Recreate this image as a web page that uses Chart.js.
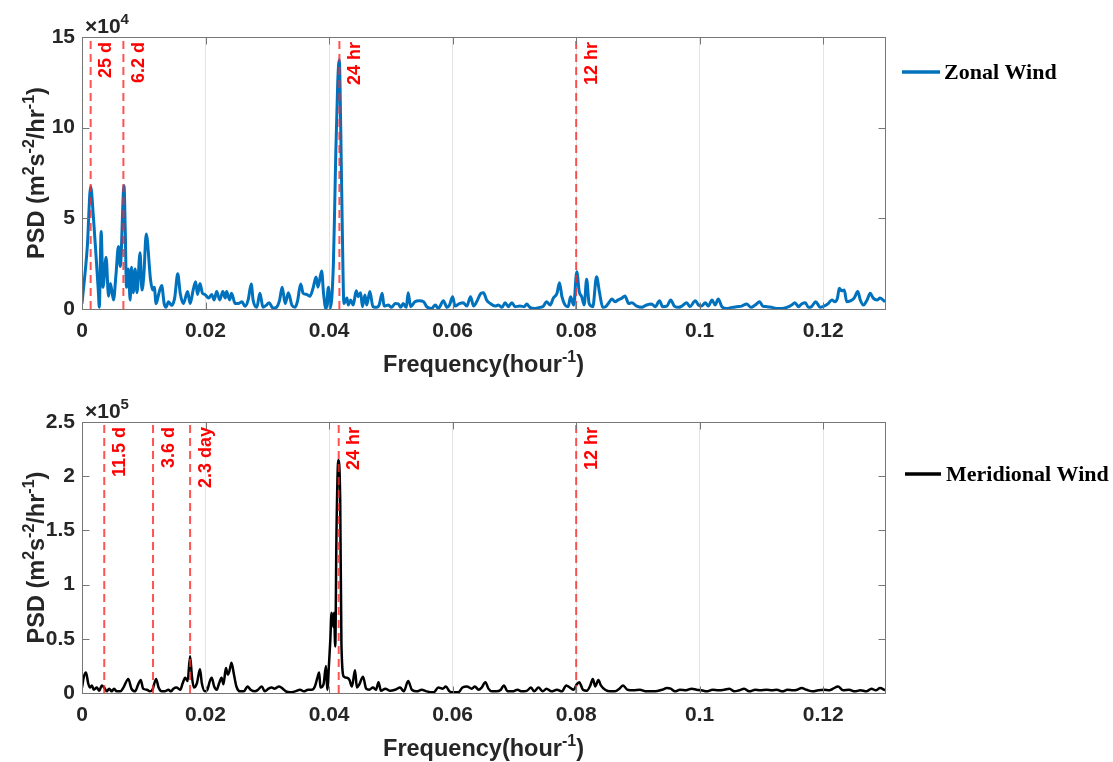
<!DOCTYPE html>
<html>
<head>
<meta charset="utf-8">
<script src="https://cdn.jsdelivr.net/npm/chart.js@4.4.0/dist/chart.umd.min.js"></script>
<style>
  html, body { margin: 0; padding: 0; background: #fff; }
  #wrap { position: relative; width: 1113px; height: 762px; }
  .panel { position: absolute; left: 0; width: 1113px; height: 381px; }
</style>
</head>
<body>
<div id="wrap">
  <div class="panel" style="top:0"><canvas id="zonal"></canvas></div>
  <div class="panel" style="top:381px"><canvas id="merid"></canvas></div>
</div>
<script>
// frequency axis (hour^-1), shared by both panels
const freqTicks = [0, 0.02, 0.04, 0.06, 0.08, 0.1, 0.12];

// zonal wind PSD, in units of 1e4
const zonalFreq = [
  0, 0.00086, 0.0014, 0.00184, 0.00226, 0.00264, 0.0028, 0.0031, 0.0034, 0.0039,
  0.0043, 0.0046, 0.0051, 0.0055, 0.0059, 0.0062, 0.0068, 0.0070, 0.0072, 0.0075,
  0.0078, 0.0080, 0.0083, 0.0086, 0.0089, 0.0094, 0.0097, 0.0100, 0.0104, 0.0111,
  0.01145, 0.0117, 0.0120, 0.0124, 0.0129, 0.0133, 0.0136, 0.0140, 0.0145, 0.0150,
  0.0155, 0.0159, 0.0164, 0.0171, 0.0175, 0.0180, 0.0184, 0.0187, 0.0191, 0.0195,
  0.0199, 0.0205, 0.0210, 0.0214, 0.0218, 0.0223, 0.0228, 0.0232, 0.0234, 0.0239,
  0.0242, 0.0248, 0.0253, 0.0259, 0.0264, 0.0269, 0.0274, 0.0277, 0.0283, 0.0288,
  0.0293, 0.0298, 0.0303, 0.0309, 0.0315, 0.0320, 0.0324, 0.0329, 0.0334, 0.0340,
  0.0345, 0.0349, 0.0354, 0.0358, 0.0364, 0.0369, 0.0374, 0.0379, 0.0382, 0.0388,
  0.0391, 0.0395, 0.0399, 0.0402, 0.0407, 0.0409, 0.0411, 0.0414, 0.04165, 0.0419,
  0.04215, 0.0424, 0.0429, 0.0431, 0.0435, 0.0439, 0.0444, 0.0447, 0.0451, 0.0454,
  0.0458, 0.0461, 0.0466, 0.0471, 0.0477, 0.0481, 0.0486, 0.0489, 0.0496, 0.0501,
  0.0507, 0.0512, 0.0516, 0.0520, 0.0525, 0.0528, 0.0532, 0.0539, 0.0546, 0.0553,
  0.0558, 0.0566, 0.0572, 0.0577, 0.0585, 0.0591, 0.0595, 0.0600, 0.0604, 0.0611,
  0.0617, 0.0623, 0.0629, 0.0634, 0.0639, 0.0646, 0.0650, 0.0655, 0.0661, 0.0669,
  0.0674, 0.0680, 0.0685, 0.0690, 0.0696, 0.0701, 0.0709, 0.0716, 0.0720, 0.0725,
  0.0733, 0.0741, 0.0747, 0.0752, 0.0758, 0.0763, 0.0769, 0.0773, 0.0777, 0.0782,
  0.0787, 0.0791, 0.0796, 0.0801, 0.0805, 0.0809, 0.0813, 0.0817, 0.0821, 0.0827,
  0.0833, 0.0838, 0.0843, 0.0848, 0.0852, 0.0858, 0.0863, 0.0868, 0.0874, 0.0879,
  0.0885, 0.0890, 0.0898, 0.0906, 0.0914, 0.0922, 0.0928, 0.0935, 0.0940, 0.0947,
  0.0953, 0.0959, 0.0966, 0.0971, 0.0979, 0.0984, 0.0993, 0.0998, 0.1003, 0.1009,
  0.1014, 0.1020, 0.1025, 0.1030, 0.1036, 0.1044, 0.1052, 0.1060, 0.1068, 0.1076,
  0.1083, 0.1090, 0.1097, 0.1102, 0.1109, 0.1117, 0.1125, 0.1133, 0.1141, 0.1149,
  0.1154, 0.1160, 0.1165, 0.1171, 0.1176, 0.1181, 0.1188, 0.1195, 0.1201, 0.1208,
  0.1214, 0.1219, 0.1223, 0.1226, 0.1230, 0.1234, 0.1238, 0.1244, 0.1250, 0.1256,
  0.1260, 0.1265, 0.1271, 0.1276, 0.1281, 0.1287, 0.1292, 0.1300
];
const zonalPsd = [
  0.3, 3.44, 6.76, 5.1, 3.0, 1.0, 0.1, 4.27, 1.2, 2.85,
  0.7, 1.4, 0.5, 1.9, 3.44, 2.35, 6.8, 4.4, 1.2, 2.2,
  0.5, 2.3, 0.9, 2.2, 0.9, 3.1, 1.05, 1.8, 4.14, 1.6,
  1.05, 1.2, 0.3, 0.8, 1.3, 0.3, 0.1, 0.4, 0.2, 0.6,
  1.94, 0.87, 0.3, 0.96, 0.3, 1.05, 1.5, 0.8, 1.4, 0.87,
  0.8, 0.6, 0.8, 0.5, 0.96, 0.5, 0.96, 0.6, 0.96, 0.5,
  0.87, 0.3, 0.3, 0.4, 0.15, 0.5, 1.38, 0.5, 0.1, 0.87,
  0.1, 0.2, 0.35, 0.05, 0.1, 0.5, 1.2, 0.3, 0.9, 0.2,
  0.1, 0.45, 1.38, 0.87, 0.8, 0.7, 1.14, 1.76, 1.2, 2.1,
  0.87, 0.0, 1.2, 0.05, 2.5, 5.5, 8.8, 12.5, 13.75, 9.7,
  4.2, 0.3, 0.6, 0.22, 0.5, 0.22, 1.0, 0.68, 0.9, 0.13,
  0.77, 0.22, 0.96, 0.13, 0.09, 0.22, 0.87, 0.16, 0.22, 0.09,
  0.3, 0.28, 0.09, 0.3, 0.09, 0.9, 0.13, 0.4, 0.45, 0.4,
  0.13, 0.03, 0.22, 0.03, 0.45, 0.09, 0.22, 0.68, 0.16, 0.3,
  0.35, 0.16, 0.68, 0.16, 0.4, 0.87, 0.9, 0.5, 0.3, 0.16,
  0.22, 0.09, 0.35, 0.13, 0.35, 0.13, 0.16, 0.13, 0.28, 0.09,
  0.03, 0.09, 0.16, 0.4, 0.22, 0.6, 0.87, 1.45, 0.68, 0.22,
  0.13, 0.68, 0.22, 2.06, 0.96, 0.68, 0.22, 1.64, 0.3, 0.13,
  1.78, 0.87, 0.09, 0.13, 0.3, 0.55, 0.4, 0.5, 0.6, 0.72,
  0.3, 0.35, 0.16, 0.09, 0.22, 0.28, 0.13, 0.45, 0.13, 0.16,
  0.5, 0.16, 0.09, 0.16, 0.35, 0.13, 0.45, 0.22, 0.16, 0.35,
  0.16, 0.5, 0.22, 0.55, 0.13, 0.03, 0.09, 0.13, 0.16, 0.28,
  0.09, 0.22, 0.4, 0.16, 0.13, 0.09, 0.03, 0.03, 0.09, 0.22,
  0.35, 0.13, 0.28, 0.35, 0.09, 0.13, 0.4, 0.09, 0.16, 0.3,
  0.5, 0.4, 0.6, 1.14, 1.0, 1.05, 0.4, 0.45, 0.6, 0.96,
  0.5, 0.22, 0.5, 0.87, 0.6, 0.5, 0.6, 0.4
];
const zonalTicks = [0, 5, 10, 15];
const zonalMarkFreq = [0.0014, 0.0067, 0.04167, 0.08];
const zonalMarkText = ['25 d', '6.2 d', '24 hr', '12 hr'];

// meridional wind PSD, in units of 1e5
const meridFreq = [
  0, 0.0003, 0.00065, 0.0010, 0.0013, 0.0016, 0.0019, 0.0024, 0.0028, 0.0032,
  0.0036, 0.0040, 0.0044, 0.0048, 0.0052, 0.0056, 0.0062, 0.0067, 0.0075, 0.0080,
  0.0086, 0.0091, 0.0095, 0.0099, 0.0105, 0.0110, 0.0114, 0.0120, 0.0124, 0.0129,
  0.0134, 0.0140, 0.0144, 0.0148, 0.0153, 0.0159, 0.0163, 0.0167, 0.0171, 0.0175,
  0.0178, 0.0181, 0.0186, 0.0191, 0.0194, 0.0199, 0.0203, 0.0207, 0.0210, 0.0214,
  0.0218, 0.0222, 0.0226, 0.0229, 0.0233, 0.0236, 0.0239, 0.0242, 0.0246, 0.0250,
  0.0256, 0.0262, 0.0268, 0.0273, 0.0280, 0.0285, 0.0291, 0.0296, 0.0302, 0.0307,
  0.0312, 0.0319, 0.0325, 0.0330, 0.0337, 0.0345, 0.0353, 0.0359, 0.0366, 0.0372,
  0.0377, 0.0381, 0.0384, 0.0386, 0.0391, 0.0395, 0.0397, 0.0400, 0.0402, 0.0404,
  0.0407, 0.0408, 0.0410, 0.0412, 0.0415, 0.0418, 0.0420, 0.0424, 0.0429, 0.0433,
  0.0437, 0.0442, 0.0445, 0.0449, 0.0455, 0.0460, 0.0465, 0.0471, 0.0476, 0.0480,
  0.0484, 0.0491, 0.0499, 0.0507, 0.0515, 0.0521, 0.0528, 0.0534, 0.0542, 0.0550,
  0.0558, 0.0569, 0.0577, 0.0584, 0.0589, 0.0595, 0.0601, 0.0609, 0.0616, 0.0623,
  0.0631, 0.0636, 0.0642, 0.0647, 0.0653, 0.0658, 0.0663, 0.0671, 0.0678, 0.0683,
  0.0689, 0.0697, 0.0705, 0.0712, 0.0720, 0.0727, 0.0732, 0.0739, 0.0746, 0.0752,
  0.0760, 0.0769, 0.0777, 0.0784, 0.0790, 0.0796, 0.0801, 0.0805, 0.0811, 0.0817,
  0.0823, 0.0827, 0.0831, 0.0836, 0.0840, 0.0847, 0.0855, 0.0863, 0.0870, 0.0876,
  0.0883, 0.0893, 0.0903, 0.0914, 0.0928, 0.0939, 0.0947, 0.0953, 0.0960, 0.0968,
  0.0978, 0.0987, 0.0995, 0.1003, 0.1011, 0.1021, 0.1030, 0.1040, 0.1048, 0.1056,
  0.1064, 0.1072, 0.1080, 0.1090, 0.1098, 0.1108, 0.1117, 0.1125, 0.1134, 0.1142,
  0.1151, 0.1158, 0.1165, 0.1173, 0.1183, 0.1192, 0.1201, 0.1210, 0.1216, 0.1224,
  0.1232, 0.1242, 0.1251, 0.1260, 0.1270, 0.1278, 0.1285, 0.1292, 0.1300
];
const meridPsd = [
  0.05, 0.15, 0.19, 0.09, 0.05, 0.07, 0.03, 0.05, 0.02, 0.07,
  0.05, 0.015, 0.04, 0.015, 0.04, 0.015, 0.015, 0.05, 0.13, 0.04,
  0.015, 0.08, 0.12, 0.04, 0.03, 0.015, 0.03, 0.13, 0.05, 0.015,
  0.015, 0.03, 0.015, 0.04, 0.05, 0.03, 0.09, 0.14, 0.11, 0.34,
  0.15, 0.05, 0.09, 0.22, 0.09, 0.015, 0.03, 0.11, 0.14, 0.06,
  0.03, 0.09, 0.14, 0.08, 0.23, 0.17, 0.21, 0.28, 0.17, 0.06,
  0.015, 0.015, 0.06, 0.03, 0.015, 0.03, 0.06, 0.015, 0.04, 0.05,
  0.04, 0.06, 0.04, 0.015, 0.006, 0.015, 0.03, 0.015, 0.03, 0.03,
  0.06, 0.14, 0.19, 0.05, 0.08, 0.25, 0.03, 0.28, 0.49, 0.74,
  0.61, 0.74, 0.43, 1.48, 2.15, 1.78, 0.45, 0.15, 0.14, 0.12,
  0.06, 0.21, 0.05, 0.08, 0.15, 0.04, 0.03, 0.05, 0.03, 0.10,
  0.02, 0.04, 0.02, 0.03, 0.05, 0.015, 0.11, 0.03, 0.015, 0.03,
  0.015, 0.006, 0.05, 0.04, 0.06, 0.015, 0.006, 0.006, 0.05, 0.06,
  0.04, 0.06, 0.03, 0.05, 0.10, 0.04, 0.015, 0.015, 0.03, 0.07,
  0.015, 0.015, 0.03, 0.015, 0.02, 0.05, 0.015, 0.05, 0.015, 0.04,
  0.015, 0.03, 0.015, 0.07, 0.05, 0.03, 0.08, 0.10, 0.03, 0.02,
  0.07, 0.13, 0.06, 0.12, 0.07, 0.03, 0.015, 0.015, 0.04, 0.07,
  0.03, 0.025, 0.03, 0.015, 0.015, 0.03, 0.045, 0.04, 0.015, 0.03,
  0.025, 0.04, 0.03, 0.025, 0.015, 0.03, 0.025, 0.03, 0.04, 0.015,
  0.025, 0.04, 0.015, 0.03, 0.025, 0.03, 0.025, 0.03, 0.015, 0.03,
  0.025, 0.03, 0.045, 0.03, 0.015, 0.025, 0.03, 0.025, 0.04, 0.06,
  0.025, 0.03, 0.015, 0.025, 0.015, 0.04, 0.025, 0.045, 0.025
];
const meridTicks = [0, 0.5, 1, 1.5, 2, 2.5];
const meridMarkFreq = [0.0036, 0.0115, 0.0175, 0.04156, 0.08];
const meridMarkText = ['11.5 d', '3.6 d', '2.3 day', '24 hr', '12 hr'];

const SANS = '"Liberation Sans", Arial, Helvetica, sans-serif';
const SERIF = '"Liberation Serif", "Times New Roman", serif';
const INK = '#262626';

// draw text made of normal / superscript pieces, starting at x (baseline y)
function richText(ctx, parts, x, y, size) {
  let cx = x;
  parts.forEach(p => {
    const s = p.sup ? Math.round(size * 0.7) : size;
    ctx.font = 'bold ' + s + 'px ' + SANS;
    ctx.fillText(p.t, cx, p.sup ? y - size * 0.42 : y);
    cx += ctx.measureText(p.t).width;
  });
  return cx - x;
}
function richWidth(ctx, parts, size) {
  let w = 0;
  parts.forEach(p => {
    const s = p.sup ? Math.round(size * 0.7) : size;
    ctx.font = 'bold ' + s + 'px ' + SANS;
    w += ctx.measureText(p.t).width;
  });
  return w;
}

const yTitle = [{t: 'PSD (m'}, {t: '2', sup: true}, {t: 's'}, {t: '-2', sup: true},
                {t: '/hr'}, {t: '-1', sup: true}, {t: ')'}];
const xTitle = [{t: 'Frequency(hour'}, {t: '-1', sup: true}, {t: ')'}];

function matlabFrame(cfg) {
  return {
    id: 'matlabFrame',
    afterDraw(chart) {
      const {ctx, chartArea: a, scales: {x, y}} = chart;
      ctx.save();
      // box + inward ticks
      ctx.strokeStyle = '#767676';
      ctx.lineWidth = 1;
      const L = Math.round(a.left) + 0.5, R = Math.round(a.right) + 0.5;
      const T = Math.round(a.top) + 0.5, B = Math.round(a.bottom) + 0.5;
      ctx.strokeRect(L, T, R - L, B - T);
      ctx.beginPath();
      x.ticks.forEach(t => {
        const px = Math.round(x.getPixelForValue(t.value)) + 0.5;
        ctx.moveTo(px, B); ctx.lineTo(px, B - 7);
        ctx.moveTo(px, T); ctx.lineTo(px, T + 7);
      });
      y.ticks.forEach(t => {
        const py = Math.round(y.getPixelForValue(t.value)) + 0.5;
        ctx.moveTo(L, py); ctx.lineTo(L + 7, py);
        ctx.moveTo(R, py); ctx.lineTo(R - 7, py);
      });
      ctx.stroke();

      // period labels next to the dashed lines
      ctx.fillStyle = '#ff0000';
      ctx.font = 'bold 18px ' + SANS;
      cfg.markFreq.forEach((f, i) => {
        ctx.save();
        ctx.translate(x.getPixelForValue(f) + 15.5, a.top + 5);
        ctx.rotate(-Math.PI / 2);
        ctx.textAlign = 'right';
        ctx.textBaseline = 'middle';
        ctx.fillText(cfg.markText[i], 0, 0);
        ctx.restore();
      });

      // exponent above the y axis
      ctx.fillStyle = INK;
      ctx.textAlign = 'left';
      ctx.textBaseline = 'alphabetic';
      richText(ctx, [{t: '\u00d710'}, {t: cfg.exponent, sup: true}], a.left + 3, a.top - 4, 21);

      // axis titles
      const xw = richWidth(ctx, xTitle, 23.5);
      richText(ctx, xTitle, (a.left + a.right) / 2 - xw / 2, a.bottom + cfg.xTitleOffset, 23.5);
      ctx.save();
      ctx.translate(44, (a.top + a.bottom) / 2);
      ctx.rotate(-Math.PI / 2);
      const yw = richWidth(ctx, yTitle, 23.5);
      richText(ctx, yTitle, -yw / 2, 0, 23.5);
      ctx.restore();

      // legend
      ctx.strokeStyle = cfg.color;
      ctx.lineWidth = 3.5;
      ctx.beginPath();
      ctx.moveTo(cfg.legend.x0, cfg.legend.y);
      ctx.lineTo(cfg.legend.x1, cfg.legend.y);
      ctx.stroke();
      ctx.fillStyle = '#000';
      ctx.font = 'bold 22px ' + SERIF;
      ctx.fillText(cfg.label, cfg.legend.tx, cfg.legend.y + 7);
      ctx.restore();
    }
  };
}

function makePanel(id, cfg) {
  const series = cfg.freq.map((f, i) => ({x: f, y: cfg.psd[i]}));
  const markSets = cfg.markFreq.map(f => ({
    data: [{x: f, y: 0}, {x: f, y: cfg.yMax}],
    borderColor: 'rgba(255, 40, 40, 0.8)',
    borderWidth: 2,
    borderDash: [8, 5],
    pointRadius: 0,
    order: 0
  }));
  return new Chart(document.getElementById(id), {
    type: 'line',
    data: {
      datasets: [{
        label: cfg.label,
        data: series,
        borderColor: cfg.color,
        borderWidth: cfg.lineWidth,
        pointRadius: 0,
        cubicInterpolationMode: 'monotone',
        order: 1
      }].concat(markSets)
    },
    options: {
      responsive: true,
      maintainAspectRatio: false,
      animation: false,
      devicePixelRatio: 1,
      layout: {padding: {top: cfg.top, right: 228, left: 0, bottom: 0}},
      plugins: {legend: {display: false}, tooltip: {enabled: false}},
      scales: {
        x: {
          type: 'linear', min: 0, max: 0.13,
          afterBuildTicks: s => { s.ticks = freqTicks.map(v => ({value: v})); },
          afterFit: s => { s.height = cfg.xAxisH; },
          grid: {color: '#e4e4e4', lineWidth: 1, drawTicks: false},
          border: {display: false},
          ticks: {
            font: {family: SANS, size: 21, weight: 'bold'}, color: INK,
            padding: 10, maxRotation: 0, autoSkip: false,
            callback: v => String(v)
          }
        },
        y: {
          type: 'linear', min: 0, max: cfg.yMax,
          afterBuildTicks: s => { s.ticks = cfg.yTicks.map(v => ({value: v})); },
          afterFit: s => { s.width = 82; },
          grid: {display: false, drawTicks: false},
          border: {display: false},
          ticks: {
            font: {family: SANS, size: 21, weight: 'bold'}, color: INK,
            padding: 7, callback: v => String(v)
          }
        }
      }
    },
    plugins: [matlabFrame(cfg)]
  });
}

makePanel('zonal', {
  freq: zonalFreq, psd: zonalPsd, yTicks: zonalTicks, yMax: 15, exponent: '4',
  markFreq: zonalMarkFreq, markText: zonalMarkText,
  label: 'Zonal Wind', color: '#0072BD', lineWidth: 3,
  top: 37, xAxisH: 72, xTitleOffset: 63,
  legend: {x0: 902, x1: 940, y: 72, tx: 944}
});
makePanel('merid', {
  freq: meridFreq, psd: meridPsd, yTicks: meridTicks, yMax: 2.5, exponent: '5',
  markFreq: meridMarkFreq, markText: meridMarkText,
  label: 'Meridional Wind', color: '#000000', lineWidth: 2.5,
  top: 41, xAxisH: 69, xTitleOffset: 63,
  legend: {x0: 905, x1: 941, y: 93, tx: 946}
});
</script>
</body>
</html>
